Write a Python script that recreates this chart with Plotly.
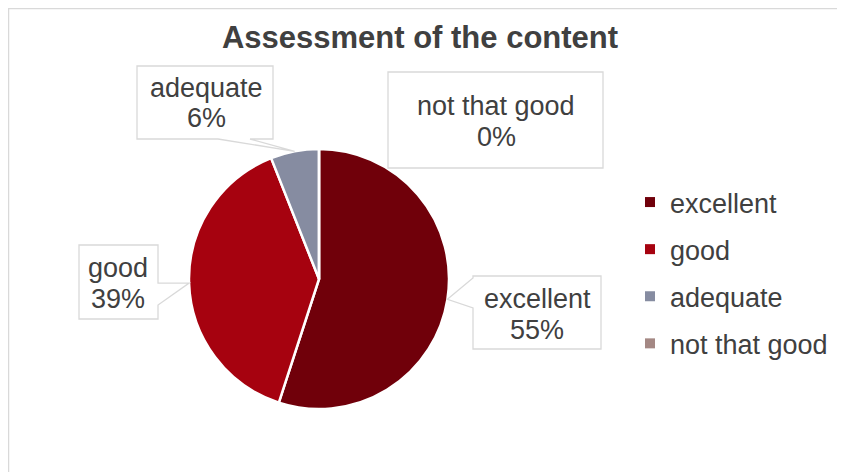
import math
import plotly.graph_objects as go

categories = ["excellent", "good", "adequate", "not that good"]
values = [55, 39, 6, 0]
colors = ["#70000A", "#A6020F", "#868CA1", "#A48884"]
title_text = "Assessment of the content"

# the page adds an 8px body margin; the figure fills the rest of the window
OFF = 8
W, H = 845 - OFF, 472 - OFF
FONT = "Liberation Sans, Arial, sans-serif"
TXT = "#404040"
GRID = "#D9D9D9"

def px(x):
    return (x - OFF) / W

def py(y):
    return 1 - (y - OFF) / H

# pie geometry in window pixels (layout only)
cx, cy, R = 319, 279, 130

fig = go.Figure()
fig.add_trace(go.Pie(
    labels=categories, values=values, sort=False, direction="clockwise",
    rotation=0, marker=dict(colors=colors, line=dict(color="white", width=2.5)),
    textinfo="none", hoverinfo="label+percent", showlegend=False,
    domain=dict(x=[px(cx - R), px(cx + R)], y=[py(cy + R), py(cy - R)]),
))

# legend entries (one group each so the spacing can follow the reference)
for cat, col in zip(categories, colors):
    fig.add_trace(go.Scatter(
        x=[None], y=[None], mode="markers", name=cat, legendgroup=cat,
        marker=dict(symbol="square", size=10, color=col),
        hoverinfo="skip"))

total = sum(values)
cum = 0
mids = []
for v in values:
    mids.append((cum + v / 2) / total * 360)
    cum += v

# label boxes: (box x0, y0, x1, y1), text centre, callout side and base
boxes = {
    "adequate": ((137, 66, 273, 139), (206, 103), ("bottom", 218, 250)),
    "not that good": ((388, 72, 603, 168), (496, 122), None),
    "good": ((79, 245, 158, 319), (118, 283), ("right", 283, 305)),
    "excellent": ((473, 276, 601, 349), (537, 314), ("left", 278, 308)),
}

shapes = [dict(type="path", xref="paper", yref="paper",
               path=f"M {px(8.6)},0 L {px(8.6)},{py(8.6)} L 1,{py(8.6)}",
               line=dict(color=GRID, width=1.3), layer="below")]
annotations = []
for cat, val, mid in zip(categories, values, mids):
    (x0, y0, x1, y1), (tx, ty), call = boxes[cat]
    tipx = cx + R * math.sin(math.radians(mid))
    tipy = cy - R * math.cos(math.radians(mid))
    pts = [(x0, y0), (x1, y0)]
    if call and call[0] == "right":
        pts += [(x1, call[1]), (tipx, tipy), (x1, call[2])]
    pts += [(x1, y1)]
    if call and call[0] == "bottom":
        pts += [(call[2], y1), (tipx, tipy), (call[1], y1)]
    pts += [(x0, y1)]
    if call and call[0] == "left":
        pts += [(x0, call[2]), (tipx, tipy), (x0, call[1])]
    path = "M " + " L ".join(f"{px(a):.5f},{py(b):.5f}" for a, b in pts) + " Z"
    shapes.append(dict(type="path", xref="paper", yref="paper", path=path,
                       fillcolor="white", line=dict(color=GRID, width=1.3)))
    pct = val / total * 100
    for line_text, dy in ((cat, -15.5), (f"{pct:.0f}%", 15.5)):
        annotations.append(dict(
            text=line_text, xref="paper", yref="paper",
            x=px(tx), y=py(ty + dy), xanchor="center", yanchor="middle",
            showarrow=False, font=dict(family=FONT, size=27, color=TXT)))

fig.update_layout(
    width=W, height=H,
    margin=dict(l=0, r=0, t=0, b=0),
    paper_bgcolor="white", plot_bgcolor="white",
    xaxis=dict(visible=False), yaxis=dict(visible=False),
    title=dict(text=f"<b>{title_text}</b>", x=px(420), xanchor="center",
               y=py(37), yanchor="middle",
               font=dict(family=FONT, size=31, color=TXT)),
    legend=dict(x=px(630), y=py(178), xanchor="left", yanchor="top",
                font=dict(family=FONT, size=27, color=TXT),
                bgcolor="rgba(0,0,0,0)", tracegroupgap=9,
                itemclick=False, itemdoubleclick=False),
    shapes=shapes, annotations=annotations,
)

fig.write_html("out.html")
